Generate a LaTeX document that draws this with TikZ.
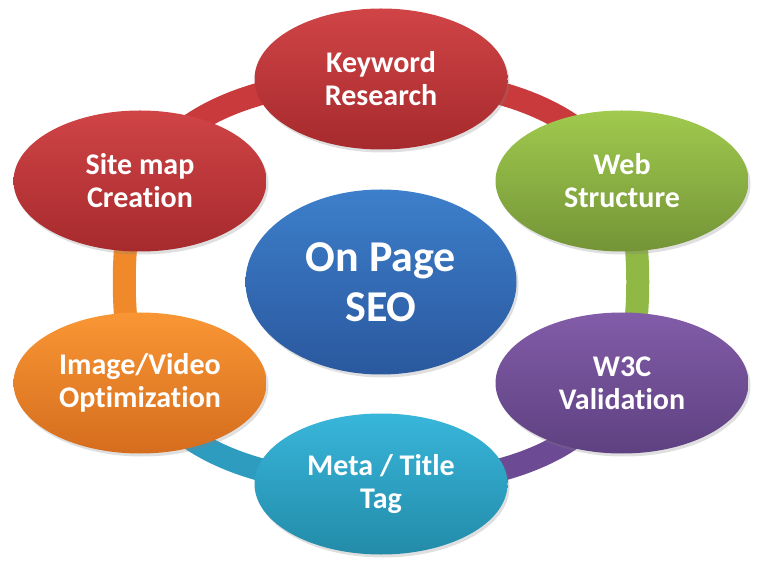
\documentclass[tikz,border=0pt]{standalone}
\usepackage{fontspec}
\setmainfont{Carlito}[Ligatures=NoCommon]
\usepackage{tikz}
\usetikzlibrary{shapes.geometric,backgrounds,shadows}
\definecolor{redtop}{HTML}{D04446}
\definecolor{redbot}{HTML}{A62A2D}
\definecolor{redring}{HTML}{C93A3C}
\definecolor{greentop}{HTML}{A0CA4E}
\definecolor{greenbot}{HTML}{749437}
\definecolor{greenring}{HTML}{8FB845}
\definecolor{purpletop}{HTML}{825CA8}
\definecolor{purplebot}{HTML}{5E4181}
\definecolor{purplering}{HTML}{6C4A94}
\definecolor{tealtop}{HTML}{38B6DA}
\definecolor{tealbot}{HTML}{238BA9}
\definecolor{tealring}{HTML}{2E9CBF}
\definecolor{orangetop}{HTML}{F99634}
\definecolor{orangebot}{HTML}{D56D1E}
\definecolor{orangering}{HTML}{F0892A}
\definecolor{bluetop}{HTML}{3D7FCB}
\definecolor{bluebot}{HTML}{2A589E}

\begin{document}
\begin{tikzpicture}[x=1pt,y=1pt,
  topic/.style={ellipse,minimum width=253pt,minimum height=141pt,inner sep=0pt,
    align=center,text=white,font=\bfseries\fontsize{30}{33}\selectfont,
    drop shadow={shadow xshift=2pt,shadow yshift=-3pt,opacity=0.25}},
  hub/.style={topic,minimum width=271pt,minimum height=185pt,
    font=\bfseries\fontsize{44}{50}\selectfont},
  ring/.style={line width=23pt}]
  \useasboundingbox (0,0) rectangle (760,568);
  \node[hub,top color=bluetop,bottom color=bluebot](seo) at (381,286){On Page\\SEO};
  \node[topic,top color=redtop,bottom color=redbot](kw) at (381,489){Keyword\\Research};
  \node[topic,top color=greentop,bottom color=greenbot](web) at (622,387){Web\\Structure};
  \node[topic,top color=purpletop,bottom color=purplebot](w3c) at (622,185){W3C\\Validation};
  \node[topic,top color=tealtop,bottom color=tealbot](meta) at (381,84){Meta / Title\\Tag};
  \node[topic,top color=orangetop,bottom color=orangebot](img) at (140,185){Image/Video\\Optimization};
  \node[topic,top color=redtop,bottom color=redbot](site) at (140,387){Site map\\Creation};
  % cycle ring behind the topics
  \begin{pgfonlayer}{background}
    \draw[ring,redring] (kw.center) .. controls +(120,0) and +(-34,67) .. (web.center);
    \draw[ring,greenring] (web.center) .. controls +(21,-42) and +(21,42) .. (w3c.center);
    \draw[ring,purplering] (w3c.center) .. controls +(-34,-67) and +(120,0) .. (meta.center);
    \draw[ring,tealring] (meta.center) .. controls +(-120,0) and +(34,-67) .. (img.center);
    \draw[ring,orangering] (img.center) .. controls +(-21,42) and +(-21,-42) .. (site.center);
    \draw[ring,redring] (site.center) .. controls +(34,67) and +(-120,0) .. (kw.center);
  \end{pgfonlayer}
\end{tikzpicture}
\end{document}
